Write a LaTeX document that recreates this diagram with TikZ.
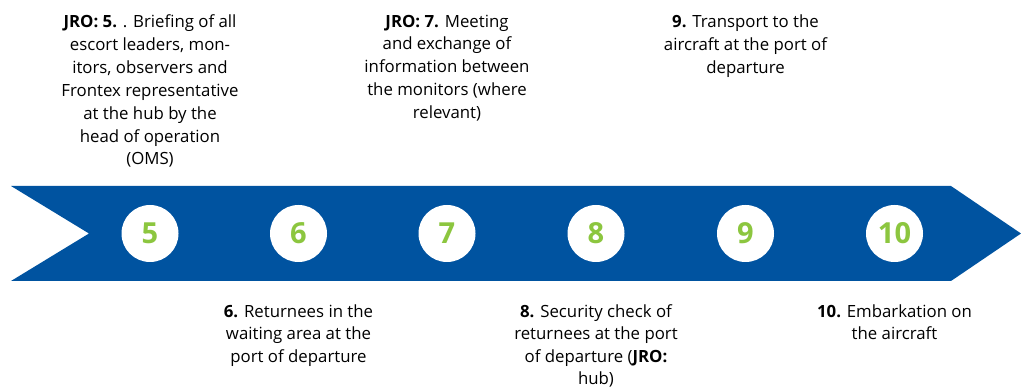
\documentclass[tikz,border=0pt]{standalone}
\usepackage{fontspec}
\setmainfont{Open Sans}
\definecolor{bandblue}{HTML}{0053A0}
\definecolor{stepgreen}{HTML}{8CC63F}
\begin{document}
\begin{tikzpicture}[x=1pt,y=-1pt,
  stepcircle/.style={circle,fill=white,minimum size=57pt,inner sep=0pt,
    text=stepgreen,font=\fontsize{29}{32}\selectfont\bfseries},
  steptext/.style={align=center,inner sep=0pt,text=black,
    font=\fontsize{16.8}{22.9}\selectfont},
  lowtext/.style={steptext,font=\fontsize{16.8}{22.4}\selectfont}]
\useasboundingbox (0,0) rectangle (1021,387);
% chevron band
\fill[bandblue] (11,186) -- (951,186) -- (1021,233.5) -- (951,281) -- (11,281) -- (89,233.5) -- cycle;
% step circles
\node[stepcircle] (c5) at (150,233.5) {5};
\node[stepcircle] (c6) at (298.5,233.5) {6};
\node[stepcircle] (c7) at (447,233.5) {7};
\node[stepcircle] (c8) at (596,233.5) {8};
\node[stepcircle] (c9) at (745.5,233.5) {9};
\node[stepcircle] (c10) at (894.5,233.5) {10};
% descriptions above the band
\node[steptext,anchor=north] (t5) at (150,14.5) {\textbf{JRO: 5.} . Briefing of all\\escort leaders, mon-\\itors, observers and\\Frontex representative\\at the hub by the\\head of operation\\(OMS)};
\node[steptext,anchor=north] (t7) at (447,14.5) {\textbf{JRO: 7.} Meeting\\and exchange of\\information between\\the monitors (where\\relevant)};
\node[steptext,anchor=north] (t9) at (745.5,14.5) {\textbf{9.} Transport to the\\aircraft at the port of\\departure};
% descriptions below the band
\node[lowtext,anchor=north] (t6) at (298.5,304.5) {\textbf{6.} Returnees in the\\waiting area at the\\port of departure};
\node[lowtext,anchor=north] (t8) at (596,304.5) {\textbf{8.} Security check of\\returnees at the port\\of departure (\textbf{JRO:}\\hub)};
\node[lowtext,anchor=north] (t10) at (894.5,304.5) {\textbf{10.} Embarkation on\\the aircraft};
\end{tikzpicture}
\end{document}
